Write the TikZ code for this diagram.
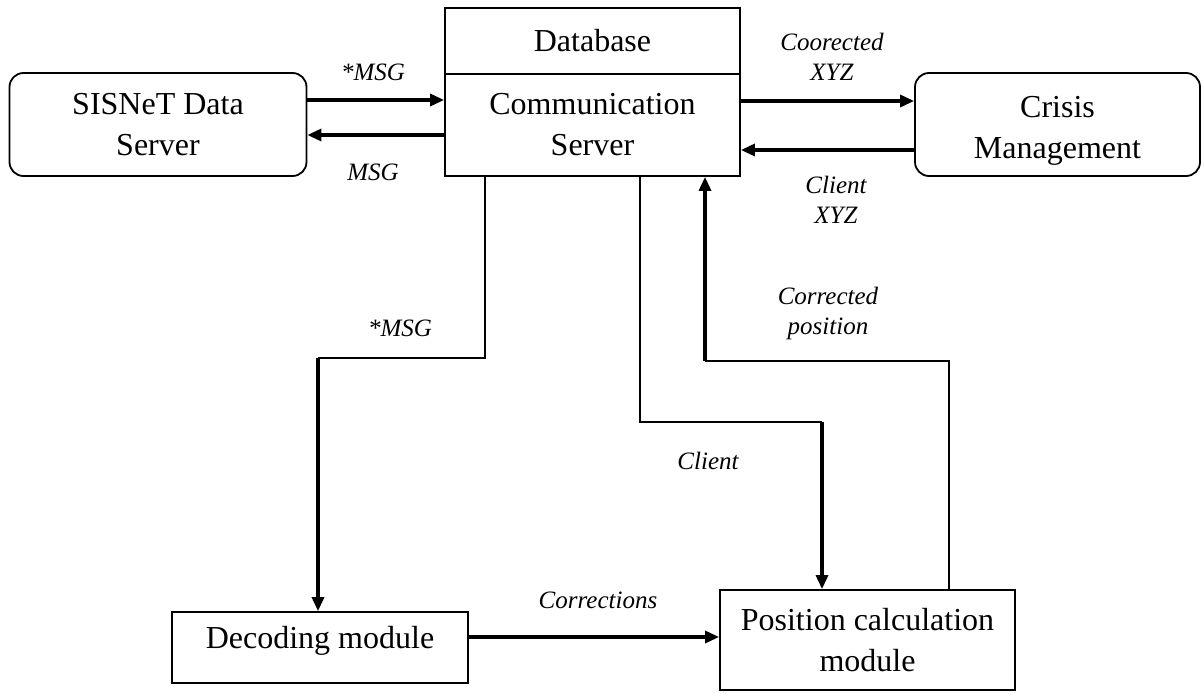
\documentclass[tikz,border=0pt]{standalone}
\usepackage{fontspec}
\setmainfont{Liberation Serif}
\usetikzlibrary{arrows.meta}
\begin{document}
\begin{tikzpicture}[x=1pt,y=-1pt,
  box/.style={draw,line width=1.8pt,inner sep=0pt,align=center,font=\fontsize{32}{41}\selectfont},
  rbox/.style={box,rounded corners=14pt},
  lbl/.style={font=\fontsize{25}{30}\selectfont\itshape,align=center},
  thn/.style={line width=2pt},
  thk/.style={line width=3.2pt},
  arr/.style={-{Triangle[length=14pt,width=12pt]}}]
\useasboundingbox[fill=white] (0,0) rectangle (1204,693);
% nodes
\node[rbox,minimum width=297pt,minimum height=103pt] (sis) at (158,124.5) {SISNeT Data\\Server};
\node[box,minimum width=295pt,minimum height=66pt] (db) at (592.5,41) {Database};
\node[box,minimum width=295pt,minimum height=102pt] (comm) at (592.5,125) {Communication\\Server};
\node[rbox,minimum width=285pt,minimum height=103pt] (crisis) at (1057.5,124.5) {};
\node[font=\fontsize{32}{41}\selectfont,align=center] (crisist) at (1057.5,131) {Crisis\\Management};
\node[box,minimum width=296pt,minimum height=71pt] (dec) at (320,647.5) {};
\node[font=\fontsize{32}{41}\selectfont] (dect) at (320,641) {Decoding module};
\node[box,minimum width=295pt,minimum height=100pt] (pos) at (867.5,640) {Position calculation\\module};
% corner coordinates
\coordinate (m1) at (485,358);
\coordinate (m2) at (318,358);
\coordinate (c1) at (640,422);
\coordinate (c2) at (822,422);
\coordinate (p1) at (949,361);
\coordinate (p2) at (705,361);
% top connectors
\draw[thk,arr] (sis.east |- 0,100) -- (comm.west |- 0,100);
\draw[thk,arr] (comm.west |- 0,135) -- (sis.east |- 0,135);
\draw[thk,arr] (comm.east |- 0,101) -- (crisis.west |- 0,101);
\draw[thk,arr] (crisis.west |- 0,150) -- (comm.east |- 0,150);
% *MSG to decoding
\draw[thn] (comm.south -| m1) -- (m1) -- (m2);
\draw[thk,arr] (m2) -- (dec.north -| m2);
% Client to position
\draw[thn] (comm.south -| c1) -- (c1) -- (c2);
\draw[thk,arr] (c2) -- (pos.north -| c2);
% Corrected position back
\draw[thn] (pos.north -| p1) -- (p1) -- (p2);
\draw[thk,arr] (p2) -- (comm.south -| p2);
% Corrections
\draw[thk,arr] (dec.east |- 0,637) -- (pos.west |- 0,637);
% labels
\node[lbl] (l1) at (373,72) {*MSG};
\node[lbl] (l2) at (373,172) {MSG};
\node[lbl] (l3) at (832,57) {Coorected\\XYZ};
\node[lbl] (l4) at (836,200) {Client\\XYZ};
\node[lbl] (l5) at (400,328) {*MSG};
\node[lbl] (l6) at (708,461) {Client};
\node[lbl] (l7) at (828,313) {Corrected\\position};
\node[lbl] (l8) at (598,600) {Corrections};
\end{tikzpicture}
\end{document}
